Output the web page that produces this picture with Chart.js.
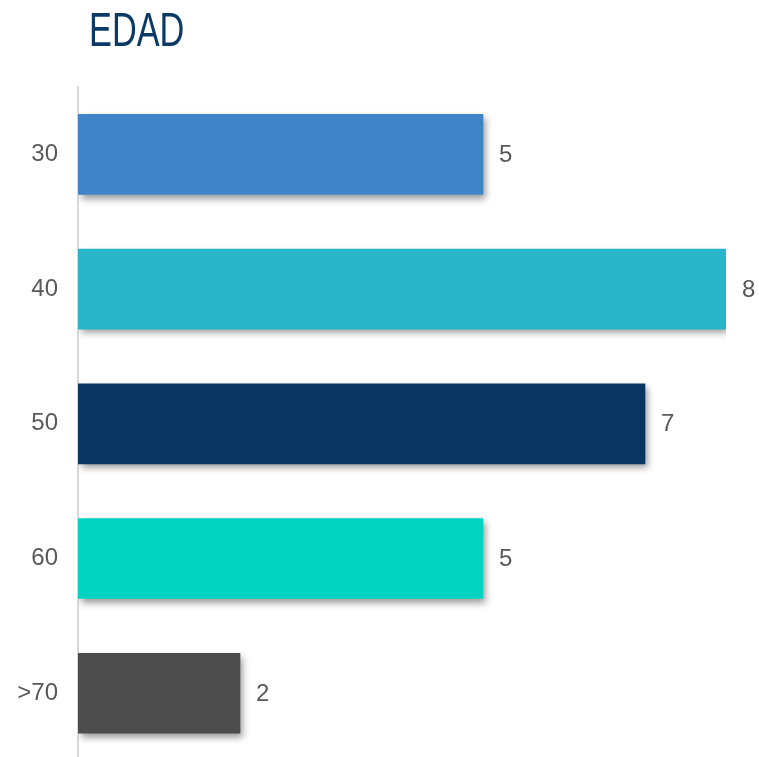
<!DOCTYPE html>
<html>
<head>
<meta charset="utf-8">
<script src="https://cdn.jsdelivr.net/npm/chart.js@4/dist/chart.umd.min.js"></script>
<style>
  html, body { margin: 0; padding: 0; background: #fff; overflow: hidden; }
  #wrap { position: relative; width: 759px; height: 757px; overflow: hidden; }
  #title {
    position: absolute; left: 89px; top: 1px;
    font-family: "Liberation Sans", "DejaVu Sans", sans-serif;
    font-size: 49px; color: #0B3A67;
    transform: scaleX(0.70);
    transform-origin: left top;
    white-space: nowrap;
  }
  canvas { position: absolute; left: 0; top: 0; }
</style>
</head>
<body>
<div id="wrap">
  <canvas id="c" width="759" height="795"></canvas>
  <div id="title">EDAD</div>
</div>
<script>
const categories = ["30", "40", "50", "60", ">70"];
const values = [5, 8, 7, 5, 2];
const barColors = ["#3F84C7", "#29B6CB", "#083660", "#00D4C0", "#4D4D4D"];

const shadowPlugin = {
  id: 'barShadow',
  beforeDatasetsDraw(chart) {
    const ctx = chart.ctx;
    ctx.save();
    ctx.shadowColor = 'rgba(0,0,0,0.4)';
    ctx.shadowBlur = 7;
    ctx.shadowOffsetX = 3;
    ctx.shadowOffsetY = 4;
  },
  afterDatasetsDraw(chart) {
    chart.ctx.restore();
  }
};

const valueLabels = {
  id: 'valueLabels',
  afterDatasetsDraw(chart) {
    const ctx = chart.ctx;
    const meta = chart.getDatasetMeta(0);
    ctx.save();
    ctx.font = '24px "Liberation Sans", Arial, sans-serif';
    ctx.fillStyle = '#595959';
    ctx.textAlign = 'left';
    ctx.textBaseline = 'middle';
    meta.data.forEach((bar, i) => {
      ctx.fillText(String(values[i]), bar.x + 16, bar.y + 1);
    });
    ctx.restore();
  }
};

new Chart(document.getElementById('c'), {
  type: 'bar',
  data: {
    labels: categories,
    datasets: [{
      data: values,
      backgroundColor: barColors,
      borderWidth: 0,
      barThickness: 80
    }]
  },
  options: {
    indexAxis: 'y',
    responsive: false,
    animation: false,
    layout: { padding: { top: 87, right: 33, bottom: 0, left: 0 } },
    plugins: { legend: { display: false }, tooltip: { enabled: false }, title: { display: false } },
    scales: {
      x: { display: false, min: 0, max: 8 },
      y: {
        afterFit(s) { s.width = 78; },
        grid: { display: false, drawTicks: false },
        border: { display: true, color: '#D9D9D9', width: 2 },
        ticks: {
          color: '#595959',
          padding: 20,
          font: { family: '"Liberation Sans", Arial, sans-serif', size: 24 }
        }
      }
    }
  },
  plugins: [shadowPlugin, valueLabels]
});
</script>
</body>
</html>
